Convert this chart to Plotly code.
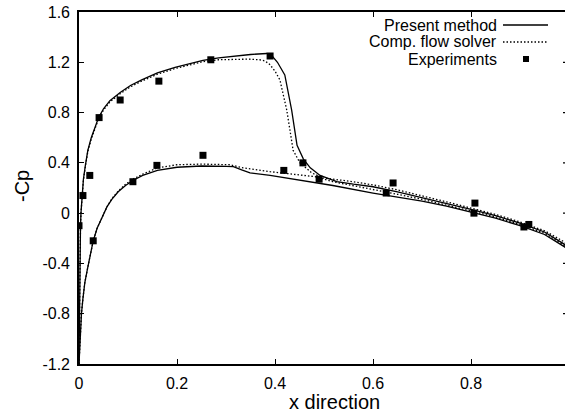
import plotly.graph_objects as go

# ---- data ----
up_present_x = [0.0, 0.0005, 0.001, 0.002, 0.003, 0.004, 0.006, 0.009, 0.013, 0.018, 0.025, 0.032, 0.040, 0.050,
                0.063, 0.084, 0.105, 0.128, 0.160, 0.196, 0.225, 0.253, 0.285, 0.315, 0.350, 0.383,
                0.393, 0.405, 0.420, 0.434, 0.445, 0.458, 0.472, 0.492, 0.526, 0.560, 0.600, 0.650, 0.700,
                0.750, 0.800, 0.850, 0.900, 0.950, 1.0]
up_present_y = [-1.2, -0.85, -0.6, -0.3, -0.12, 0.0, 0.13, 0.27, 0.38, 0.50, 0.60, 0.68, 0.76, 0.83,
                0.895, 0.96, 1.015, 1.06, 1.115, 1.16, 1.19, 1.215, 1.235, 1.25, 1.262, 1.27,
                1.255, 1.20, 1.10, 0.82, 0.54, 0.43, 0.36, 0.30, 0.25, 0.23, 0.21, 0.17, 0.125,
                0.08, 0.03, -0.02, -0.08, -0.15, -0.27]

up_comp_x = [0.0, 0.0005, 0.001, 0.002, 0.003, 0.004, 0.006, 0.009, 0.013, 0.018, 0.025, 0.032, 0.040, 0.050,
             0.063, 0.084, 0.105, 0.128, 0.160, 0.196, 0.225, 0.253, 0.285, 0.315, 0.345, 0.369,
             0.380, 0.390, 0.400, 0.410, 0.424, 0.437, 0.451, 0.475, 0.498, 0.550, 0.600, 0.650, 0.700,
             0.750, 0.800, 0.850, 0.900, 0.950, 1.0]
up_comp_y = [-1.2, -0.85, -0.6, -0.3, -0.12, 0.0, 0.13, 0.26, 0.37, 0.49, 0.59, 0.67, 0.75, 0.82,
             0.885, 0.95, 1.005, 1.05, 1.105, 1.15, 1.18, 1.205, 1.22, 1.225, 1.225, 1.22,
             1.21, 1.18, 1.13, 1.06, 0.82, 0.50, 0.40, 0.32, 0.28, 0.255, 0.225, 0.185, 0.14,
             0.09, 0.04, -0.01, -0.07, -0.14, -0.25]

lo_present_x = [0.0, 0.001, 0.003, 0.005, 0.008, 0.012, 0.018, 0.024, 0.029, 0.037, 0.047, 0.057, 0.067, 0.080,
                0.095, 0.110, 0.130, 0.160, 0.200, 0.250, 0.300, 0.315, 0.332, 0.349, 0.390, 0.451,
                0.518, 0.600, 0.650, 0.700, 0.750, 0.800, 0.850, 0.900, 0.950, 1.0]
lo_present_y = [-1.2, -1.10, -0.92, -0.80, -0.68, -0.55, -0.43, -0.31, -0.22, -0.12, -0.03, 0.05, 0.11, 0.17,
                0.22, 0.26, 0.30, 0.34, 0.365, 0.375, 0.372, 0.37, 0.344, 0.32, 0.30, 0.26,
                0.22, 0.16, 0.13, 0.095, 0.055, 0.01, -0.04, -0.10, -0.17, -0.29]

lo_comp_x = [0.0, 0.001, 0.003, 0.005, 0.008, 0.012, 0.018, 0.024, 0.029, 0.037, 0.047, 0.057, 0.067, 0.080,
             0.095, 0.110, 0.130, 0.160, 0.200, 0.250, 0.308, 0.335, 0.390, 0.451, 0.482, 0.518,
             0.600, 0.650, 0.700, 0.750, 0.800, 0.850, 0.900, 0.950, 1.0]
lo_comp_y = [-1.2, -1.10, -0.92, -0.80, -0.68, -0.55, -0.43, -0.31, -0.22, -0.12, -0.03, 0.05, 0.115, 0.175,
             0.23, 0.27, 0.31, 0.36, 0.385, 0.39, 0.385, 0.36, 0.33, 0.30, 0.29, 0.25,
             0.19, 0.15, 0.11, 0.065, 0.02, -0.03, -0.09, -0.16, -0.28]

exp_x = [0.0, 0.008, 0.022, 0.029, 0.041, 0.084, 0.163, 0.159, 0.253, 0.110, 0.269, 0.390, 0.418, 0.457, 0.490,
         0.641, 0.627, 0.808, 0.806, 0.908, 0.918]
exp_y = [-0.10, 0.14, 0.30, -0.22, 0.76, 0.90, 1.05, 0.38, 0.46, 0.25, 1.22, 1.25, 0.34, 0.40, 0.27,
         0.24, 0.16, 0.08, 0.0, -0.11, -0.09]

x_ticks = [0, 0.2, 0.4, 0.6, 0.8]
x_tick_labels = ["0", "0.2", "0.4", "0.6", "0.8"]
y_ticks = [-1.2, -0.8, -0.4, 0, 0.4, 0.8, 1.2, 1.6]
y_tick_labels = ["-1.2", "-0.8", "-0.4", "0", "0.4", "0.8", "1.2", "1.6"]

legend_names = ["Present method", "Comp. flow solver", "Experiments"]

# ---- layout geometry ----
W, H = 565, 414
ML, MR, MT, MB = 79, 0, 12, 50
PW, PH = W - ML - MR, H - MT - MB
FONT = "Liberation Sans, Arial, Helvetica, sans-serif"
DOT = "1.5px,2px"


def px(xp):
    return (xp - ML) / PW


def py(yp):
    return (H - MB - yp) / PH


fig = go.Figure()
line_solid = dict(color="black", width=1.3)
line_dot = dict(color="black", width=1.3, dash=DOT)

fig.add_trace(go.Scatter(x=up_present_x, y=up_present_y, mode="lines", line=line_solid))
fig.add_trace(go.Scatter(x=lo_present_x, y=lo_present_y, mode="lines", line=line_solid))
fig.add_trace(go.Scatter(x=up_comp_x, y=up_comp_y, mode="lines", line=line_dot))
fig.add_trace(go.Scatter(x=lo_comp_x, y=lo_comp_y, mode="lines", line=line_dot))
fig.add_trace(go.Scatter(x=exp_x, y=exp_y, mode="markers",
                         marker=dict(symbol="square", size=7, color="black")))

fig.update_layout(
    width=W, height=H,
    margin=dict(l=ML, r=MR, t=MT, b=MB),
    paper_bgcolor="white", plot_bgcolor="white",
    showlegend=False,
    font=dict(family=FONT, size=16, color="black"),
    xaxis=dict(range=[0, PW / 490], tickvals=x_ticks, ticktext=x_tick_labels,
               ticks="inside", ticklen=5, tickwidth=1.3, tickcolor="black",
               showline=True, linecolor="black", linewidth=1.6, mirror="ticks",
               showgrid=False, zeroline=False, ticklabelstandoff=4),
    yaxis=dict(range=[-1.2, 1.6], tickvals=y_ticks, ticktext=y_tick_labels,
               ticks="inside", ticklen=5, tickwidth=1.3, tickcolor="black",
               showline=True, linecolor="black", linewidth=1.6, mirror=False,
               showgrid=False, zeroline=False, ticklabelstandoff=4),
)

# axis titles
fig.add_annotation(text="x direction", xref="paper", yref="paper", x=px(334), y=py(402),
                   showarrow=False, xanchor="center", yanchor="middle", font=dict(size=20))
fig.add_annotation(text="-Cp", xref="paper", yref="paper", x=px(22), y=py(186), textangle=-90,
                   showarrow=False, xanchor="center", yanchor="middle", font=dict(size=20))

# right border tick stubs (border itself is cut off)
for yt in y_ticks[1:-1]:
    fig.add_shape(type="line", xref="paper", yref="y", x0=1 - 2 / PW, x1=1, y0=yt, y1=yt,
                  line=dict(color="black", width=1.3))

# manual legend (text right-aligned, sample on the right)
rows = [25, 42, 59]
for name, yr in zip(legend_names, rows):
    fig.add_annotation(text=name, xref="paper", yref="paper", x=px(499), y=py(yr),
                       showarrow=False, xanchor="right", yanchor="middle", font=dict(size=16))
fig.add_shape(type="line", xref="paper", yref="paper", x0=px(503), x1=px(548), y0=py(rows[0]), y1=py(rows[0]),
              line=dict(color="black", width=1.3))
fig.add_shape(type="line", xref="paper", yref="paper", x0=px(503), x1=px(548), y0=py(rows[1]), y1=py(rows[1]),
              line=dict(color="black", width=1.3, dash=DOT))
fig.add_shape(type="rect", xref="paper", yref="paper", x0=px(523), x1=px(529), y0=py(rows[2] + 3), y1=py(rows[2] - 3),
              line=dict(width=0), fillcolor="black")

fig.write_html("out.html")
